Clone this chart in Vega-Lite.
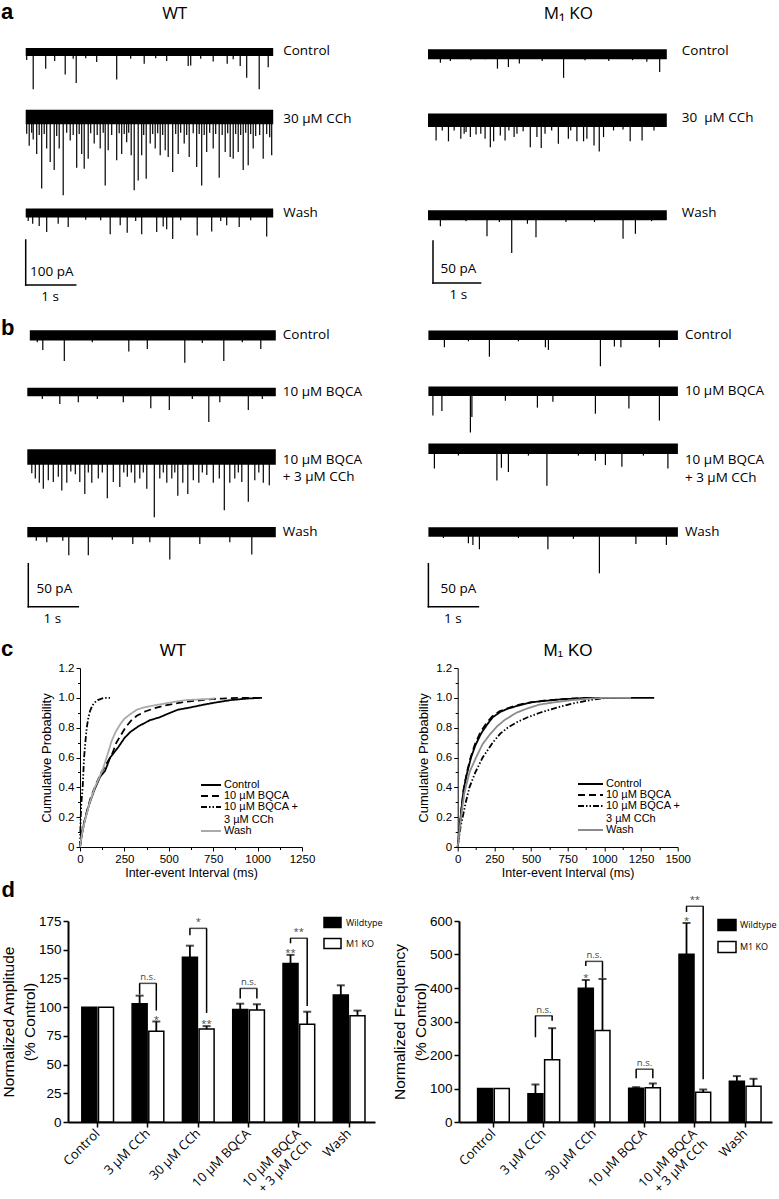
{
"$schema": "https://vega.github.io/schema/vega-lite/v6.json",
"background": "white",
"padding": {"left": 1, "top": 0, "right": 0, "bottom": 0},
"config": {
  "view": {"stroke": null},
  "axis": {"domainColor": "black", "tickColor": "black", "labelColor": "black", "titleColor": "black", "grid": false, "labelFont": "Liberation Sans", "titleFont": "Liberation Sans", "titleFontWeight": "normal"},
  "legend": {"labelColor": "black"},
  "title": {"color": "black"}
},
"datasets": {
  "panels": [{"panel": "a"}, {"panel": "b"}, {"panel": "c"}],
  "heads": [{"key": "aWT", "text": "WT"}, {"key": "aKO", "text": "M₁ KO"}, {"key": "cWT", "text": "WT"}, {"key": "cKO", "text": "M₁ KO"}],
  "tr": [
    {"id":"aWT_c","t0":0,"t1":4.95,"lo":-9,"hi":9,"label":"Control"},
    {"id":"aWT_x","t0":0,"t1":4.95,"lo":-16,"hi":16,"label":"30 µM CCh"},
    {"id":"aWT_w","t0":0,"t1":4.95,"lo":-10,"hi":10,"label":"Wash"},
    {"id":"aKO_c","t0":0,"t1":5.02,"lo":-6,"hi":6,"label":"Control"},
    {"id":"aKO_x","t0":0,"t1":5.02,"lo":-8,"hi":8,"label":"30\u00a0 µM CCh"},
    {"id":"aKO_w","t0":0,"t1":5.02,"lo":-6,"hi":6,"label":"Wash"},
    {"id":"bWT_c","t0":0.05,"t1":4.97,"lo":-6,"hi":6,"label":"Control"},
    {"id":"bWT_b","t0":0,"t1":4.97,"lo":-5,"hi":5,"label":"10 µM BQCA"},
    {"id":"bWT_x","t0":0,"t1":4.97,"lo":-9,"hi":9,"label":"10 µM BQCA\n+ 3 µM CCh"},
    {"id":"bWT_w","t0":0,"t1":4.97,"lo":-6,"hi":6,"label":"Wash"},
    {"id":"bKO_c","t0":0,"t1":4.99,"lo":-5.5,"hi":5.5,"label":"Control"},
    {"id":"bKO_b","t0":0,"t1":4.99,"lo":-5.5,"hi":5.5,"label":"10 µM BQCA"},
    {"id":"bKO_x","t0":0,"t1":4.99,"lo":-6,"hi":6,"label":"10 µM BQCA\n+ 3 µM CCh"},
    {"id":"bKO_w","t0":0,"t1":4.99,"lo":-5.5,"hi":5.5,"label":"Wash"}
  ],
  "sbl": [
    {"id":"aWT","t0":0,"t1":0,"i0":-60,"i1":-160},
    {"id":"aWT","t0":0,"t1":1,"i0":-160,"i1":-160},
    {"id":"aKO","t0":0.105,"t1":0.105,"i0":-30.6,"i1":-80.6},
    {"id":"aKO","t0":0.105,"t1":1.105,"i0":-80.6,"i1":-80.6},
    {"id":"bWT","t0":0.02,"t1":0.02,"i0":-36.9,"i1":-86.9},
    {"id":"bWT","t0":0.02,"t1":1.02,"i0":-86.9,"i1":-86.9},
    {"id":"bKO","t0":0,"t1":0,"i0":-36.9,"i1":-86.9},
    {"id":"bKO","t0":0,"t1":1,"i0":-86.9,"i1":-86.9}
  ],
  "sbt": [
    {"id":"aWT","t":0.52,"i":-131,"text":"100 pA"},
    {"id":"aWT","t":0.49,"i":-187,"text":"1 s"},
    {"id":"aKO","t":0.64,"i":-63.6,"text":"50 pA"},
    {"id":"aKO","t":0.64,"i":-95,"text":"1 s"},
    {"id":"bWT","t":0.54,"i":-65.9,"text":"50 pA"},
    {"id":"bWT","t":0.5,"i":-101,"text":"1 s"},
    {"id":"bKO","t":0.6,"i":-65.9,"text":"50 pA"},
    {"id":"bKO","t":0.49,"i":-101,"text":"1 s"}
  ],
  "aWT_c": [{"t":0.02,"i":-18},{"t":0.15,"i":-83},{"t":0.4,"i":-37},{"t":0.58,"i":-20},{"t":0.79,"i":-50},{"t":0.95,"i":-15},{"t":1.01,"i":-69},{"t":1.2,"i":-14},{"t":1.42,"i":-22},{"t":1.82,"i":-61},{"t":2.1,"i":-15},{"t":2.37,"i":-26},{"t":2.6,"i":-14},{"t":2.82,"i":-20},{"t":3.25,"i":-31},{"t":3.3,"i":-30},{"t":3.5,"i":-15},{"t":3.75,"i":-21},{"t":4.03,"i":-26},{"t":4.15,"i":-16},{"t":4.29,"i":-31},{"t":4.42,"i":-57},{"t":4.67,"i":-83},{"t":4.85,"i":-34}],
  "aWT_x": [{"t":0.02,"i":-37},{"t":0.07,"i":-64},{"t":0.12,"i":-35},{"t":0.15,"i":-50},{"t":0.22,"i":-82},{"t":0.27,"i":-40},{"t":0.32,"i":-159},{"t":0.37,"i":-38},{"t":0.42,"i":-70},{"t":0.49,"i":-100},{"t":0.57,"i":-118},{"t":0.62,"i":-42},{"t":0.67,"i":-70},{"t":0.75,"i":-174},{"t":0.82,"i":-35},{"t":0.89,"i":-52},{"t":0.95,"i":-40},{"t":1.02,"i":-113},{"t":1.07,"i":-38},{"t":1.12,"i":-82},{"t":1.17,"i":-115},{"t":1.25,"i":-93},{"t":1.3,"i":-36},{"t":1.37,"i":-59},{"t":1.43,"i":-40},{"t":1.49,"i":-70},{"t":1.55,"i":-35},{"t":1.59,"i":-152},{"t":1.65,"i":-74},{"t":1.72,"i":-40},{"t":1.82,"i":-96},{"t":1.87,"i":-36},{"t":1.92,"i":-82},{"t":1.97,"i":-38},{"t":2.02,"i":-56},{"t":2.06,"i":-35},{"t":2.11,"i":-85},{"t":2.17,"i":-163},{"t":2.25,"i":-141},{"t":2.32,"i":-85},{"t":2.36,"i":-40},{"t":2.41,"i":-137},{"t":2.49,"i":-59},{"t":2.54,"i":-38},{"t":2.59,"i":-70},{"t":2.64,"i":-36},{"t":2.69,"i":-85},{"t":2.74,"i":-40},{"t":2.79,"i":-74},{"t":2.85,"i":-89},{"t":2.94,"i":-122},{"t":3.0,"i":-38},{"t":3.05,"i":-82},{"t":3.1,"i":-35},{"t":3.17,"i":-59},{"t":3.22,"i":-40},{"t":3.27,"i":-89},{"t":3.35,"i":-36},{"t":3.42,"i":-111},{"t":3.47,"i":-38},{"t":3.52,"i":-152},{"t":3.57,"i":-40},{"t":3.62,"i":-78},{"t":3.68,"i":-35},{"t":3.75,"i":-70},{"t":3.8,"i":-38},{"t":3.87,"i":-135},{"t":3.93,"i":-40},{"t":3.99,"i":-78},{"t":4.04,"i":-36},{"t":4.09,"i":-89},{"t":4.15,"i":-93},{"t":4.2,"i":-38},{"t":4.25,"i":-78},{"t":4.3,"i":-40},{"t":4.35,"i":-118},{"t":4.4,"i":-35},{"t":4.45,"i":-107},{"t":4.5,"i":-38},{"t":4.55,"i":-70},{"t":4.6,"i":-42},{"t":4.68,"i":-40},{"t":4.75,"i":-93},{"t":4.82,"i":-38},{"t":4.88,"i":-45},{"t":4.92,"i":-85}],
  "aWT_w": [{"t":0.05,"i":-18},{"t":0.14,"i":-24},{"t":0.27,"i":-29},{"t":0.42,"i":-42},{"t":0.65,"i":-24},{"t":0.85,"i":-31},{"t":1.2,"i":-15},{"t":1.5,"i":-16},{"t":1.69,"i":-47},{"t":1.89,"i":-27},{"t":2.03,"i":-44},{"t":2.2,"i":-18},{"t":2.32,"i":-47},{"t":2.62,"i":-42},{"t":2.75,"i":-30},{"t":2.82,"i":-36},{"t":2.94,"i":-58},{"t":3.1,"i":-16},{"t":3.43,"i":-50},{"t":3.72,"i":-41},{"t":3.9,"i":-18},{"t":4.02,"i":-27},{"t":4.27,"i":-31},{"t":4.5,"i":-16},{"t":4.82,"i":-52}],
  "aKO_c": [{"t":0.26,"i":-10},{"t":0.47,"i":-8},{"t":0.9,"i":-7},{"t":1.2,"i":-6},{"t":1.46,"i":-17},{"t":1.69,"i":-15},{"t":1.92,"i":-11},{"t":2.4,"i":-8},{"t":2.85,"i":-28},{"t":3.3,"i":-7},{"t":3.8,"i":-8},{"t":4.3,"i":-7},{"t":4.6,"i":-9},{"t":4.87,"i":-21}],
  "aKO_x": [{"t":0.17,"i":-24},{"t":0.3,"i":-12},{"t":0.43,"i":-25},{"t":0.55,"i":-12},{"t":0.69,"i":-22},{"t":0.76,"i":-16},{"t":0.8,"i":-14},{"t":0.89,"i":-20},{"t":1.01,"i":-17},{"t":1.11,"i":-16},{"t":1.2,"i":-22},{"t":1.31,"i":-32},{"t":1.38,"i":-25},{"t":1.52,"i":-18},{"t":1.62,"i":-24},{"t":1.7,"i":-12},{"t":1.81,"i":-20},{"t":1.87,"i":-16},{"t":2.0,"i":-13},{"t":2.15,"i":-32},{"t":2.29,"i":-20},{"t":2.38,"i":-33},{"t":2.46,"i":-16},{"t":2.6,"i":-12},{"t":2.74,"i":-28},{"t":2.95,"i":-22},{"t":3.0,"i":-12},{"t":3.13,"i":-25},{"t":3.27,"i":-25},{"t":3.34,"i":-22},{"t":3.49,"i":-30},{"t":3.6,"i":-37},{"t":3.69,"i":-20},{"t":3.9,"i":-12},{"t":4.1,"i":-11},{"t":4.25,"i":-25},{"t":4.5,"i":-24},{"t":4.75,"i":-12}],
  "aKO_w": [{"t":0.26,"i":-13},{"t":0.8,"i":-7},{"t":1.24,"i":-25},{"t":1.5,"i":-8},{"t":1.76,"i":-45},{"t":2.09,"i":-10},{"t":2.27,"i":-26},{"t":2.9,"i":-8},{"t":3.5,"i":-8},{"t":4.1,"i":-28},{"t":4.36,"i":-22},{"t":4.7,"i":-7}],
  "bWT_c": [{"t":0.2,"i":-8},{"t":0.31,"i":-17},{"t":0.74,"i":-30},{"t":1.3,"i":-8},{"t":2.03,"i":-19},{"t":2.4,"i":-16},{"t":3.15,"i":-32},{"t":3.5,"i":-9},{"t":3.93,"i":-30},{"t":4.3,"i":-8},{"t":4.67,"i":-16}],
  "bWT_b": [{"t":0.3,"i":-8},{"t":0.65,"i":-14},{"t":1.02,"i":-12},{"t":1.4,"i":-8},{"t":1.92,"i":-12},{"t":2.47,"i":-19},{"t":2.84,"i":-21},{"t":3.3,"i":-8},{"t":3.63,"i":-35},{"t":3.85,"i":-12},{"t":4.42,"i":-21},{"t":4.7,"i":-8}],
  "bWT_x": [{"t":0.09,"i":-19},{"t":0.16,"i":-25},{"t":0.24,"i":-30},{"t":0.32,"i":-37},{"t":0.42,"i":-27},{"t":0.52,"i":-29},{"t":0.62,"i":-23},{"t":0.69,"i":-39},{"t":0.79,"i":-30},{"t":0.87,"i":-17},{"t":0.96,"i":-20},{"t":1.05,"i":-29},{"t":1.15,"i":-43},{"t":1.22,"i":-18},{"t":1.29,"i":-30},{"t":1.42,"i":-25},{"t":1.5,"i":-18},{"t":1.6,"i":-48},{"t":1.72,"i":-29},{"t":1.85,"i":-35},{"t":1.93,"i":-18},{"t":2.0,"i":-23},{"t":2.08,"i":-18},{"t":2.15,"i":-30},{"t":2.25,"i":-25},{"t":2.32,"i":-18},{"t":2.39,"i":-37},{"t":2.54,"i":-70},{"t":2.65,"i":-25},{"t":2.72,"i":-18},{"t":2.79,"i":-30},{"t":2.89,"i":-25},{"t":2.95,"i":-18},{"t":3.01,"i":-45},{"t":3.11,"i":-30},{"t":3.21,"i":-43},{"t":3.32,"i":-27},{"t":3.43,"i":-30},{"t":3.5,"i":-18},{"t":3.59,"i":-21},{"t":3.72,"i":-30},{"t":3.84,"i":-25},{"t":3.94,"i":-62},{"t":4.05,"i":-30},{"t":4.15,"i":-25},{"t":4.22,"i":-18},{"t":4.29,"i":-29},{"t":4.42,"i":-52},{"t":4.55,"i":-27},{"t":4.63,"i":-18},{"t":4.72,"i":-30},{"t":4.84,"i":-33}],
  "bWT_w": [{"t":0.18,"i":-10},{"t":0.39,"i":-12},{"t":0.71,"i":-10},{"t":0.83,"i":-27},{"t":1.22,"i":-27},{"t":1.7,"i":-9},{"t":2.11,"i":-14},{"t":2.45,"i":-12},{"t":2.85,"i":-32},{"t":3.45,"i":-14},{"t":4.05,"i":-12},{"t":4.49,"i":-26}],
  "bKO_c": [{"t":0.32,"i":-14},{"t":0.8,"i":-7},{"t":1.22,"i":-25},{"t":1.8,"i":-7},{"t":2.34,"i":-14},{"t":2.4,"i":-17},{"t":3.44,"i":-36},{"t":3.72,"i":-13},{"t":3.85,"i":-14},{"t":4.62,"i":-14}],
  "bKO_b": [{"t":0.09,"i":-28},{"t":0.27,"i":-23},{"t":0.84,"i":-48},{"t":0.87,"i":-30},{"t":1.54,"i":-11},{"t":2.18,"i":-19},{"t":2.49,"i":-12},{"t":3.34,"i":-26},{"t":4.01,"i":-20},{"t":4.62,"i":-34}],
  "bKO_x": [{"t":0.12,"i":-23},{"t":0.6,"i":-8},{"t":1.37,"i":-37},{"t":1.46,"i":-22},{"t":1.6,"i":-27},{"t":2.0,"i":-8},{"t":2.37,"i":-43},{"t":3.0,"i":-8},{"t":3.34,"i":-14},{"t":3.54,"i":-19},{"t":3.87,"i":-21},{"t":4.3,"i":-8},{"t":4.79,"i":-23}],
  "bKO_w": [{"t":0.3,"i":-7},{"t":0.8,"i":-13},{"t":0.89,"i":-15},{"t":1.02,"i":-20},{"t":1.8,"i":-7},{"t":2.39,"i":-20},{"t":2.9,"i":-8},{"t":3.42,"i":-48},{"t":4.15,"i":-14},{"t":4.76,"i":-15}],
  "cdf": [
    {"g":"WT","s":"Control","ms":0,"p":0},{"g":"WT","s":"Control","ms":10,"p":0.08},{"g":"WT","s":"Control","ms":25,"p":0.17},{"g":"WT","s":"Control","ms":50,"p":0.28},{"g":"WT","s":"Control","ms":80,"p":0.38},{"g":"WT","s":"Control","ms":113,"p":0.47},{"g":"WT","s":"Control","ms":141,"p":0.51},{"g":"WT","s":"Control","ms":170,"p":0.6},{"g":"WT","s":"Control","ms":216,"p":0.67},{"g":"WT","s":"Control","ms":250,"p":0.73},{"g":"WT","s":"Control","ms":282,"p":0.77},{"g":"WT","s":"Control","ms":330,"p":0.81},{"g":"WT","s":"Control","ms":394,"p":0.85},{"g":"WT","s":"Control","ms":450,"p":0.87},{"g":"WT","s":"Control","ms":488,"p":0.89},{"g":"WT","s":"Control","ms":550,"p":0.92},{"g":"WT","s":"Control","ms":619,"p":0.935},{"g":"WT","s":"Control","ms":700,"p":0.955},{"g":"WT","s":"Control","ms":770,"p":0.97},{"g":"WT","s":"Control","ms":850,"p":0.985},{"g":"WT","s":"Control","ms":939,"p":0.995},{"g":"WT","s":"Control","ms":1025,"p":1},
    {"g":"WT","s":"10 µM BQCA","ms":0,"p":0},{"g":"WT","s":"10 µM BQCA","ms":10,"p":0.09},{"g":"WT","s":"10 µM BQCA","ms":30,"p":0.2},{"g":"WT","s":"10 µM BQCA","ms":60,"p":0.33},{"g":"WT","s":"10 µM BQCA","ms":90,"p":0.42},{"g":"WT","s":"10 µM BQCA","ms":120,"p":0.5},{"g":"WT","s":"10 µM BQCA","ms":150,"p":0.56},{"g":"WT","s":"10 µM BQCA","ms":180,"p":0.62},{"g":"WT","s":"10 µM BQCA","ms":205,"p":0.7},{"g":"WT","s":"10 µM BQCA","ms":230,"p":0.75},{"g":"WT","s":"10 µM BQCA","ms":255,"p":0.8},{"g":"WT","s":"10 µM BQCA","ms":290,"p":0.85},{"g":"WT","s":"10 µM BQCA","ms":320,"p":0.88},{"g":"WT","s":"10 µM BQCA","ms":370,"p":0.91},{"g":"WT","s":"10 µM BQCA","ms":420,"p":0.93},{"g":"WT","s":"10 µM BQCA","ms":480,"p":0.95},{"g":"WT","s":"10 µM BQCA","ms":530,"p":0.96},{"g":"WT","s":"10 µM BQCA","ms":600,"p":0.975},{"g":"WT","s":"10 µM BQCA","ms":650,"p":0.98},{"g":"WT","s":"10 µM BQCA","ms":720,"p":0.99},{"g":"WT","s":"10 µM BQCA","ms":800,"p":0.995},{"g":"WT","s":"10 µM BQCA","ms":900,"p":1},{"g":"WT","s":"10 µM BQCA","ms":1030,"p":1},
    {"g":"WT","s":"10 µM BQCA + 3 µM CCh","ms":0,"p":0},{"g":"WT","s":"10 µM BQCA + 3 µM CCh","ms":2,"p":0.1},{"g":"WT","s":"10 µM BQCA + 3 µM CCh","ms":4,"p":0.2},{"g":"WT","s":"10 µM BQCA + 3 µM CCh","ms":8,"p":0.3},{"g":"WT","s":"10 µM BQCA + 3 µM CCh","ms":15,"p":0.4},{"g":"WT","s":"10 µM BQCA + 3 µM CCh","ms":19,"p":0.5},{"g":"WT","s":"10 µM BQCA + 3 µM CCh","ms":23,"p":0.6},{"g":"WT","s":"10 µM BQCA + 3 µM CCh","ms":30,"p":0.7},{"g":"WT","s":"10 µM BQCA + 3 µM CCh","ms":38,"p":0.8},{"g":"WT","s":"10 µM BQCA + 3 µM CCh","ms":46,"p":0.86},{"g":"WT","s":"10 µM BQCA + 3 µM CCh","ms":56,"p":0.91},{"g":"WT","s":"10 µM BQCA + 3 µM CCh","ms":70,"p":0.95},{"g":"WT","s":"10 µM BQCA + 3 µM CCh","ms":84,"p":0.97},{"g":"WT","s":"10 µM BQCA + 3 µM CCh","ms":100,"p":0.985},{"g":"WT","s":"10 µM BQCA + 3 µM CCh","ms":122,"p":0.995},{"g":"WT","s":"10 µM BQCA + 3 µM CCh","ms":140,"p":1},{"g":"WT","s":"10 µM BQCA + 3 µM CCh","ms":169,"p":1},
    {"g":"WT","s":"Wash","ms":0,"p":0},{"g":"WT","s":"Wash","ms":10,"p":0.08},{"g":"WT","s":"Wash","ms":28,"p":0.18},{"g":"WT","s":"Wash","ms":55,"p":0.3},{"g":"WT","s":"Wash","ms":84,"p":0.4},{"g":"WT","s":"Wash","ms":110,"p":0.47},{"g":"WT","s":"Wash","ms":131,"p":0.53},{"g":"WT","s":"Wash","ms":155,"p":0.62},{"g":"WT","s":"Wash","ms":178,"p":0.71},{"g":"WT","s":"Wash","ms":200,"p":0.77},{"g":"WT","s":"Wash","ms":225,"p":0.82},{"g":"WT","s":"Wash","ms":250,"p":0.86},{"g":"WT","s":"Wash","ms":282,"p":0.89},{"g":"WT","s":"Wash","ms":320,"p":0.92},{"g":"WT","s":"Wash","ms":357,"p":0.935},{"g":"WT","s":"Wash","ms":420,"p":0.95},{"g":"WT","s":"Wash","ms":469,"p":0.96},{"g":"WT","s":"Wash","ms":540,"p":0.975},{"g":"WT","s":"Wash","ms":601,"p":0.985},{"g":"WT","s":"Wash","ms":680,"p":0.99},{"g":"WT","s":"Wash","ms":750,"p":0.995},{"g":"WT","s":"Wash","ms":760,"p":1},
    {"g":"KO","s":"Control","ms":0,"p":0},{"g":"KO","s":"Control","ms":10,"p":0.1},{"g":"KO","s":"Control","ms":25,"p":0.25},{"g":"KO","s":"Control","ms":41,"p":0.39},{"g":"KO","s":"Control","ms":65,"p":0.5},{"g":"KO","s":"Control","ms":91,"p":0.6},{"g":"KO","s":"Control","ms":120,"p":0.68},{"g":"KO","s":"Control","ms":159,"p":0.76},{"g":"KO","s":"Control","ms":200,"p":0.82},{"g":"KO","s":"Control","ms":239,"p":0.87},{"g":"KO","s":"Control","ms":290,"p":0.905},{"g":"KO","s":"Control","ms":341,"p":0.927},{"g":"KO","s":"Control","ms":420,"p":0.95},{"g":"KO","s":"Control","ms":500,"p":0.97},{"g":"KO","s":"Control","ms":600,"p":0.98},{"g":"KO","s":"Control","ms":704,"p":0.99},{"g":"KO","s":"Control","ms":800,"p":0.995},{"g":"KO","s":"Control","ms":886,"p":1},{"g":"KO","s":"Control","ms":1340,"p":1},
    {"g":"KO","s":"10 µM BQCA","ms":0,"p":0},{"g":"KO","s":"10 µM BQCA","ms":10,"p":0.1},{"g":"KO","s":"10 µM BQCA","ms":25,"p":0.25},{"g":"KO","s":"10 µM BQCA","ms":40,"p":0.38},{"g":"KO","s":"10 µM BQCA","ms":62,"p":0.5},{"g":"KO","s":"10 µM BQCA","ms":88,"p":0.6},{"g":"KO","s":"10 µM BQCA","ms":118,"p":0.69},{"g":"KO","s":"10 µM BQCA","ms":155,"p":0.77},{"g":"KO","s":"10 µM BQCA","ms":195,"p":0.83},{"g":"KO","s":"10 µM BQCA","ms":235,"p":0.875},{"g":"KO","s":"10 µM BQCA","ms":285,"p":0.91},{"g":"KO","s":"10 µM BQCA","ms":340,"p":0.93},{"g":"KO","s":"10 µM BQCA","ms":420,"p":0.955},{"g":"KO","s":"10 µM BQCA","ms":500,"p":0.97},{"g":"KO","s":"10 µM BQCA","ms":600,"p":0.983},{"g":"KO","s":"10 µM BQCA","ms":700,"p":0.99},{"g":"KO","s":"10 µM BQCA","ms":800,"p":0.996},{"g":"KO","s":"10 µM BQCA","ms":900,"p":1},{"g":"KO","s":"10 µM BQCA","ms":1000,"p":1},
    {"g":"KO","s":"10 µM BQCA + 3 µM CCh","ms":0,"p":0},{"g":"KO","s":"10 µM BQCA + 3 µM CCh","ms":10,"p":0.07},{"g":"KO","s":"10 µM BQCA + 3 µM CCh","ms":20,"p":0.14},{"g":"KO","s":"10 µM BQCA + 3 µM CCh","ms":34,"p":0.2},{"g":"KO","s":"10 µM BQCA + 3 µM CCh","ms":55,"p":0.3},{"g":"KO","s":"10 µM BQCA + 3 µM CCh","ms":80,"p":0.4},{"g":"KO","s":"10 µM BQCA + 3 µM CCh","ms":120,"p":0.5},{"g":"KO","s":"10 µM BQCA + 3 µM CCh","ms":170,"p":0.6},{"g":"KO","s":"10 µM BQCA + 3 µM CCh","ms":239,"p":0.7},{"g":"KO","s":"10 µM BQCA + 3 µM CCh","ms":290,"p":0.76},{"g":"KO","s":"10 µM BQCA + 3 µM CCh","ms":341,"p":0.8},{"g":"KO","s":"10 µM BQCA + 3 µM CCh","ms":400,"p":0.835},{"g":"KO","s":"10 µM BQCA + 3 µM CCh","ms":477,"p":0.87},{"g":"KO","s":"10 µM BQCA + 3 µM CCh","ms":560,"p":0.9},{"g":"KO","s":"10 µM BQCA + 3 µM CCh","ms":659,"p":0.93},{"g":"KO","s":"10 µM BQCA + 3 µM CCh","ms":773,"p":0.96},{"g":"KO","s":"10 µM BQCA + 3 µM CCh","ms":850,"p":0.975},{"g":"KO","s":"10 µM BQCA + 3 µM CCh","ms":932,"p":0.99},{"g":"KO","s":"10 µM BQCA + 3 µM CCh","ms":1023,"p":1},{"g":"KO","s":"10 µM BQCA + 3 µM CCh","ms":1100,"p":1},
    {"g":"KO","s":"Wash","ms":0,"p":0},{"g":"KO","s":"Wash","ms":10,"p":0.09},{"g":"KO","s":"Wash","ms":25,"p":0.22},{"g":"KO","s":"Wash","ms":45,"p":0.36},{"g":"KO","s":"Wash","ms":80,"p":0.5},{"g":"KO","s":"Wash","ms":125,"p":0.6},{"g":"KO","s":"Wash","ms":170,"p":0.69},{"g":"KO","s":"Wash","ms":216,"p":0.75},{"g":"KO","s":"Wash","ms":270,"p":0.81},{"g":"KO","s":"Wash","ms":318,"p":0.85},{"g":"KO","s":"Wash","ms":400,"p":0.9},{"g":"KO","s":"Wash","ms":477,"p":0.93},{"g":"KO","s":"Wash","ms":560,"p":0.955},{"g":"KO","s":"Wash","ms":659,"p":0.97},{"g":"KO","s":"Wash","ms":780,"p":0.985},{"g":"KO","s":"Wash","ms":932,"p":0.997},{"g":"KO","s":"Wash","ms":1000,"p":1},{"g":"KO","s":"Wash","ms":1182,"p":1}
  ],
  "amp": [
    {"cond":"Control","g":"Wildtype","mean":100,"err":null},{"cond":"Control","g":"M1 KO","mean":100,"err":null},
    {"cond":"3 µM CCh","g":"Wildtype","mean":103,"err":110},{"cond":"3 µM CCh","g":"M1 KO","mean":79,"err":87.5},
    {"cond":"30 µM CCh","g":"Wildtype","mean":143.5,"err":153.5},{"cond":"30 µM CCh","g":"M1 KO","mean":81,"err":83.5},
    {"cond":"10 µM BQCA","g":"Wildtype","mean":98,"err":103},{"cond":"10 µM BQCA","g":"M1 KO","mean":97.5,"err":102.5},
    {"cond":"10 µM BQCA + 3 µM CCh","g":"Wildtype","mean":138,"err":145.5},{"cond":"10 µM BQCA + 3 µM CCh","g":"M1 KO","mean":85,"err":96},
    {"cond":"Wash","g":"Wildtype","mean":110.5,"err":119},{"cond":"Wash","g":"M1 KO","mean":92.5,"err":97}
  ],
  "freq": [
    {"cond":"Control","g":"Wildtype","mean":100,"err":null},{"cond":"Control","g":"M1 KO","mean":100,"err":null},
    {"cond":"3 µM CCh","g":"Wildtype","mean":84,"err":112},{"cond":"3 µM CCh","g":"M1 KO","mean":186,"err":280},
    {"cond":"30 µM CCh","g":"Wildtype","mean":399,"err":424},{"cond":"30 µM CCh","g":"M1 KO","mean":273,"err":427},
    {"cond":"10 µM BQCA","g":"Wildtype","mean":101,"err":104},{"cond":"10 µM BQCA","g":"M1 KO","mean":102,"err":115},
    {"cond":"10 µM BQCA + 3 µM CCh","g":"Wildtype","mean":501,"err":594},{"cond":"10 µM BQCA + 3 µM CCh","g":"M1 KO","mean":89,"err":97},
    {"cond":"Wash","g":"Wildtype","mean":122,"err":137},{"cond":"Wash","g":"M1 KO","mean":107,"err":129}
  ],
  "ampLegs": [
    {"cond":"3 µM CCh","g":"Wildtype","lo":111,"hi":120.7},{"cond":"3 µM CCh","g":"M1 KO","lo":97,"hi":120.7},
    {"cond":"30 µM CCh","g":"Wildtype","lo":162.6,"hi":168.6},{"cond":"30 µM CCh","g":"M1 KO","lo":95,"hi":168.6},
    {"cond":"10 µM BQCA","g":"Wildtype","lo":107.6,"hi":116.3},{"cond":"10 µM BQCA","g":"M1 KO","lo":107.6,"hi":116.3},
    {"cond":"10 µM BQCA + 3 µM CCh","g":"Wildtype","lo":155.6,"hi":160},{"cond":"10 µM BQCA + 3 µM CCh","g":"M1 KO","lo":101,"hi":160}
  ],
  "ampBr": [
    {"cond":"3 µM CCh","top":120.7,"label":"n.s."},{"cond":"30 µM CCh","top":168.6,"label":"*"},
    {"cond":"10 µM BQCA","top":116.3,"label":"n.s."},{"cond":"10 µM BQCA + 3 µM CCh","top":160,"label":"**"}
  ],
  "ampStar": [
    {"cond":"3 µM CCh","g":"M1 KO","y":87.5,"label":"*"},{"cond":"30 µM CCh","g":"M1 KO","y":83.5,"label":"**"},
    {"cond":"10 µM BQCA + 3 µM CCh","g":"Wildtype","y":145.5,"label":"**"}
  ],
  "freqLegs": [
    {"cond":"3 µM CCh","g":"Wildtype","lo":253,"hi":317},{"cond":"3 µM CCh","g":"M1 KO","lo":302,"hi":317},
    {"cond":"30 µM CCh","g":"Wildtype","lo":466,"hi":479.5},{"cond":"30 µM CCh","g":"M1 KO","lo":430,"hi":479.5},
    {"cond":"10 µM BQCA","g":"Wildtype","lo":130.5,"hi":157.6},{"cond":"10 µM BQCA","g":"M1 KO","lo":130.5,"hi":157.6},
    {"cond":"10 µM BQCA + 3 µM CCh","g":"Wildtype","lo":627,"hi":644},{"cond":"10 µM BQCA + 3 µM CCh","g":"M1 KO","lo":127.6,"hi":644}
  ],
  "freqBr": [
    {"cond":"3 µM CCh","top":317,"label":"n.s."},{"cond":"30 µM CCh","top":479.5,"label":"n.s."},
    {"cond":"10 µM BQCA","top":157.6,"label":"n.s."},{"cond":"10 µM BQCA + 3 µM CCh","top":644,"label":"**"}
  ],
  "freqStar": [
    {"cond":"30 µM CCh","g":"Wildtype","y":424,"label":"*"},{"cond":"10 µM BQCA + 3 µM CCh","g":"Wildtype","y":594,"label":"*"}
  ]
},
"spacing": 0,
"vconcat": [
 {
  "spacing": 42,
  "hconcat": [
   {"bounds": "flush", "spacing": 0, "vconcat": [
    {"width": 317.7, "height": 64,
     "layer": [
      {"data": {"name": "tr"}, "transform": [{"filter": "datum.id == 'aWT_c'"}], "mark": {"type": "rect", "color": "black"},
       "encoding": {"x": {"field": "t0", "type": "quantitative", "scale": {"domain": [0.846, 7.2], "nice": false}, "axis": null}, "x2": {"field": "t1"},
                    "y": {"field": "lo", "type": "quantitative", "scale": {"domain": [-88.9, 53.3], "nice": false}, "axis": null}, "y2": {"field": "hi"}}},
      {"data": {"name": "aWT_c"}, "mark": {"type": "rule", "color": "black", "strokeWidth": 1.2},
       "encoding": {"x": {"field": "t", "type": "quantitative", "axis": null}, "y": {"field": "i", "type": "quantitative", "axis": null}, "y2": {"datum": 0}}},
      {"data": {"name": "tr"}, "transform": [{"filter": "datum.id == 'aWT_c'"}], "mark": {"type": "text", "align": "left", "baseline": "middle", "dx": 10, "dy": -1, "font": "Open Sans", "fontSize": 13.5, "lineBreak": "\n", "color": "black"},
       "encoding": {"x": {"field": "t1", "type": "quantitative", "axis": null}, "y": {"datum": 0, "type": "quantitative", "axis": null}, "text": {"field": "label"}}},
      {"data": {"name": "panels"}, "transform": [{"filter": "datum.panel == 'a'"}], "mark": {"type": "text", "align": "left", "baseline": "alphabetic", "font": "Liberation Sans", "fontSize": 22, "fontWeight": "bold", "color": "black"},
       "encoding": {"x": {"datum": -0.494, "type": "quantitative", "axis": null}, "y": {"datum": 73.3, "type": "quantitative", "axis": null}, "text": {"field": "panel"}}},
      {"data": {"name": "heads"}, "transform": [{"filter": "datum.key == 'aWT'"}], "mark": {"type": "text", "align": "center", "baseline": "alphabetic", "font": "Open Sans", "fontSize": 17, "color": "black"},
       "encoding": {"x": {"datum": 2.98, "type": "quantitative", "axis": null}, "y": {"datum": 73.3, "type": "quantitative", "axis": null}, "text": {"field": "text"}}}
     ]},
    {"width": 317.7, "height": 108,
     "layer": [
      {"data": {"name": "tr"}, "transform": [{"filter": "datum.id == 'aWT_x'"}], "mark": {"type": "rect", "color": "black"},
       "encoding": {"x": {"field": "t0", "type": "quantitative", "scale": {"domain": [0.846, 7.2], "nice": false}, "axis": null}, "x2": {"field": "t1"},
                    "y": {"field": "lo", "type": "quantitative", "scale": {"domain": [-184.4, 55.6], "nice": false}, "axis": null}, "y2": {"field": "hi"}}},
      {"data": {"name": "aWT_x"}, "mark": {"type": "rule", "color": "black", "strokeWidth": 1.2},
       "encoding": {"x": {"field": "t", "type": "quantitative", "axis": null}, "y": {"field": "i", "type": "quantitative", "axis": null}, "y2": {"datum": 0}}},
      {"data": {"name": "tr"}, "transform": [{"filter": "datum.id == 'aWT_x'"}], "mark": {"type": "text", "align": "left", "baseline": "middle", "dx": 10, "dy": 2, "font": "Open Sans", "fontSize": 13.5, "lineBreak": "\n", "color": "black"},
       "encoding": {"x": {"field": "t1", "type": "quantitative", "axis": null}, "y": {"datum": 0, "type": "quantitative", "axis": null}, "text": {"field": "label"}}}
     ]},
    {"width": 317.7, "height": 114,
     "layer": [
      {"data": {"name": "tr"}, "transform": [{"filter": "datum.id == 'aWT_w'"}], "mark": {"type": "rect", "color": "black"},
       "encoding": {"x": {"field": "t0", "type": "quantitative", "scale": {"domain": [0.846, 7.2], "nice": false}, "axis": null}, "x2": {"field": "t1"},
                    "y": {"field": "lo", "type": "quantitative", "scale": {"domain": [-224.4, 28.9], "nice": false}, "axis": null}, "y2": {"field": "hi"}}},
      {"data": {"name": "aWT_w"}, "mark": {"type": "rule", "color": "black", "strokeWidth": 1.2},
       "encoding": {"x": {"field": "t", "type": "quantitative", "axis": null}, "y": {"field": "i", "type": "quantitative", "axis": null}, "y2": {"datum": 0}}},
      {"data": {"name": "tr"}, "transform": [{"filter": "datum.id == 'aWT_w'"}], "mark": {"type": "text", "align": "left", "baseline": "middle", "dx": 10, "dy": 0, "font": "Open Sans", "fontSize": 13.5, "lineBreak": "\n", "color": "black"},
       "encoding": {"x": {"field": "t1", "type": "quantitative", "axis": null}, "y": {"datum": 0, "type": "quantitative", "axis": null}, "text": {"field": "label"}}},
      {"data": {"name": "sbl"}, "transform": [{"filter": "datum.id == 'aWT'"}], "mark": {"type": "rule", "color": "black", "strokeWidth": 1.5, "strokeCap": "square"},
       "encoding": {"x": {"field": "t0", "type": "quantitative", "axis": null}, "x2": {"field": "t1"}, "y": {"field": "i0", "type": "quantitative", "axis": null}, "y2": {"field": "i1"}}},
      {"data": {"name": "sbt"}, "transform": [{"filter": "datum.id == 'aWT'"}], "mark": {"type": "text", "align": "center", "baseline": "middle", "font": "Open Sans", "fontSize": 13.5, "color": "black"},
       "encoding": {"x": {"field": "t", "type": "quantitative", "axis": null}, "y": {"field": "i", "type": "quantitative", "axis": null}, "text": {"field": "text"}}}
     ]}
   ]},
   {"bounds": "flush", "spacing": 0, "vconcat": [
    {"width": 333, "height": 59,
     "layer": [
      {"data": {"name": "tr"}, "transform": [{"filter": "datum.id == 'aKO_c'"}], "mark": {"type": "rect", "color": "black"},
       "encoding": {"x": {"field": "t0", "type": "quantitative", "scale": {"domain": [0, 7], "nice": false}, "axis": null}, "x2": {"field": "t1"},
                    "y": {"field": "lo", "type": "quantitative", "scale": {"domain": [-38.9, 31.3], "nice": false}, "axis": null}, "y2": {"field": "hi"}}},
      {"data": {"name": "aKO_c"}, "mark": {"type": "rule", "color": "black", "strokeWidth": 1.2},
       "encoding": {"x": {"field": "t", "type": "quantitative", "axis": null}, "y": {"field": "i", "type": "quantitative", "axis": null}, "y2": {"datum": 0}}},
      {"data": {"name": "tr"}, "transform": [{"filter": "datum.id == 'aKO_c'"}], "mark": {"type": "text", "align": "left", "baseline": "middle", "dx": 15, "dy": -3, "font": "Open Sans", "fontSize": 13.5, "lineBreak": "\n", "color": "black"},
       "encoding": {"x": {"field": "t1", "type": "quantitative", "axis": null}, "y": {"datum": 0, "type": "quantitative", "axis": null}, "text": {"field": "label"}}},
      {"data": {"name": "heads"}, "transform": [{"filter": "datum.key == 'aKO'"}], "mark": {"type": "text", "align": "center", "baseline": "alphabetic", "font": "Open Sans", "fontSize": 17, "color": "black"},
       "encoding": {"x": {"datum": 2.95, "type": "quantitative", "axis": null}, "y": {"datum": 42, "type": "quantitative", "axis": null}, "text": {"field": "text"}}}
     ]},
    {"width": 333, "height": 75,
     "layer": [
      {"data": {"name": "tr"}, "transform": [{"filter": "datum.id == 'aKO_x'"}], "mark": {"type": "rect", "color": "black"},
       "encoding": {"x": {"field": "t0", "type": "quantitative", "scale": {"domain": [0, 7], "nice": false}, "axis": null}, "x2": {"field": "t1"},
                    "y": {"field": "lo", "type": "quantitative", "scale": {"domain": [-49.6, 39.6], "nice": false}, "axis": null}, "y2": {"field": "hi"}}},
      {"data": {"name": "aKO_x"}, "mark": {"type": "rule", "color": "black", "strokeWidth": 1.2},
       "encoding": {"x": {"field": "t", "type": "quantitative", "axis": null}, "y": {"field": "i", "type": "quantitative", "axis": null}, "y2": {"datum": 0}}},
      {"data": {"name": "tr"}, "transform": [{"filter": "datum.id == 'aKO_x'"}], "mark": {"type": "text", "align": "left", "baseline": "middle", "dx": 15, "dy": -2, "font": "Open Sans", "fontSize": 13.5, "lineBreak": "\n", "color": "black"},
       "encoding": {"x": {"field": "t1", "type": "quantitative", "axis": null}, "y": {"datum": 0, "type": "quantitative", "axis": null}, "text": {"field": "label"}}}
     ]},
    {"width": 333, "height": 152,
     "layer": [
      {"data": {"name": "tr"}, "transform": [{"filter": "datum.id == 'aKO_w'"}], "mark": {"type": "rect", "color": "black"},
       "encoding": {"x": {"field": "t0", "type": "quantitative", "scale": {"domain": [0, 7], "nice": false}, "axis": null}, "x2": {"field": "t1"},
                    "y": {"field": "lo", "type": "quantitative", "scale": {"domain": [-117.5, 63.5], "nice": false}, "axis": null}, "y2": {"field": "hi"}}},
      {"data": {"name": "aKO_w"}, "mark": {"type": "rule", "color": "black", "strokeWidth": 1.2},
       "encoding": {"x": {"field": "t", "type": "quantitative", "axis": null}, "y": {"field": "i", "type": "quantitative", "axis": null}, "y2": {"datum": 0}}},
      {"data": {"name": "tr"}, "transform": [{"filter": "datum.id == 'aKO_w'"}], "mark": {"type": "text", "align": "left", "baseline": "middle", "dx": 15, "dy": -2, "font": "Open Sans", "fontSize": 13.5, "lineBreak": "\n", "color": "black"},
       "encoding": {"x": {"field": "t1", "type": "quantitative", "axis": null}, "y": {"datum": 0, "type": "quantitative", "axis": null}, "text": {"field": "label"}}},
      {"data": {"name": "sbl"}, "transform": [{"filter": "datum.id == 'aKO'"}], "mark": {"type": "rule", "color": "black", "strokeWidth": 1.5, "strokeCap": "square"},
       "encoding": {"x": {"field": "t0", "type": "quantitative", "axis": null}, "x2": {"field": "t1"}, "y": {"field": "i0", "type": "quantitative", "axis": null}, "y2": {"field": "i1"}}},
      {"data": {"name": "sbt"}, "transform": [{"filter": "datum.id == 'aKO'"}], "mark": {"type": "text", "align": "center", "baseline": "middle", "font": "Open Sans", "fontSize": 13.5, "color": "black"},
       "encoding": {"x": {"field": "t", "type": "quantitative", "axis": null}, "y": {"field": "i", "type": "quantitative", "axis": null}, "text": {"field": "text"}}}
     ]}
   ]}
  ]
 },
 {
  "spacing": 38.4,
  "hconcat": [
   {"bounds": "flush", "spacing": 0, "vconcat": [
    {"width": 319.3, "height": 53,
     "layer": [
      {"data": {"name": "tr"}, "transform": [{"filter": "datum.id == 'bWT_c'"}], "mark": {"type": "rect", "color": "black"},
       "encoding": {"x": {"field": "t0", "type": "quantitative", "scale": {"domain": [0.814, 7.2], "nice": false}, "axis": null}, "x2": {"field": "t1"},
                    "y": {"field": "lo", "type": "quantitative", "scale": {"domain": [-36.9, 24.8], "nice": false}, "axis": null}, "y2": {"field": "hi"}}},
      {"data": {"name": "bWT_c"}, "mark": {"type": "rule", "color": "black", "strokeWidth": 1.2},
       "encoding": {"x": {"field": "t", "type": "quantitative", "axis": null}, "y": {"field": "i", "type": "quantitative", "axis": null}, "y2": {"datum": 0}}},
      {"data": {"name": "tr"}, "transform": [{"filter": "datum.id == 'bWT_c'"}], "mark": {"type": "text", "align": "left", "baseline": "middle", "dx": 7, "dy": 0, "font": "Open Sans", "fontSize": 13.5, "lineBreak": "\n", "color": "black"},
       "encoding": {"x": {"field": "t1", "type": "quantitative", "axis": null}, "y": {"datum": 0, "type": "quantitative", "axis": null}, "text": {"field": "label"}}},
      {"data": {"name": "panels"}, "transform": [{"filter": "datum.panel == 'b'"}], "mark": {"type": "text", "align": "left", "baseline": "alphabetic", "font": "Liberation Sans", "fontSize": 22, "fontWeight": "bold", "color": "black"},
       "encoding": {"x": {"datum": -0.526, "type": "quantitative", "axis": null}, "y": {"datum": 0, "type": "quantitative", "axis": null}, "text": {"field": "panel"}}}
     ]},
    {"width": 319.3, "height": 63,
     "layer": [
      {"data": {"name": "tr"}, "transform": [{"filter": "datum.id == 'bWT_b'"}], "mark": {"type": "rect", "color": "black"},
       "encoding": {"x": {"field": "t0", "type": "quantitative", "scale": {"domain": [0.814, 7.2], "nice": false}, "axis": null}, "x2": {"field": "t1"},
                    "y": {"field": "lo", "type": "quantitative", "scale": {"domain": [-44.2, 29.1], "nice": false}, "axis": null}, "y2": {"field": "hi"}}},
      {"data": {"name": "bWT_b"}, "mark": {"type": "rule", "color": "black", "strokeWidth": 1.2},
       "encoding": {"x": {"field": "t", "type": "quantitative", "axis": null}, "y": {"field": "i", "type": "quantitative", "axis": null}, "y2": {"datum": 0}}},
      {"data": {"name": "tr"}, "transform": [{"filter": "datum.id == 'bWT_b'"}], "mark": {"type": "text", "align": "left", "baseline": "middle", "dx": 7, "dy": 0, "font": "Open Sans", "fontSize": 13.5, "lineBreak": "\n", "color": "black"},
       "encoding": {"x": {"field": "t1", "type": "quantitative", "axis": null}, "y": {"datum": 0, "type": "quantitative", "axis": null}, "text": {"field": "label"}}}
     ]},
    {"width": 319.3, "height": 90,
     "layer": [
      {"data": {"name": "tr"}, "transform": [{"filter": "datum.id == 'bWT_x'"}], "mark": {"type": "rect", "color": "black"},
       "encoding": {"x": {"field": "t0", "type": "quantitative", "scale": {"domain": [0.814, 7.2], "nice": false}, "axis": null}, "x2": {"field": "t1"},
                    "y": {"field": "lo", "type": "quantitative", "scale": {"domain": [-73.3, 31.4], "nice": false}, "axis": null}, "y2": {"field": "hi"}}},
      {"data": {"name": "bWT_x"}, "mark": {"type": "rule", "color": "black", "strokeWidth": 1.2},
       "encoding": {"x": {"field": "t", "type": "quantitative", "axis": null}, "y": {"field": "i", "type": "quantitative", "axis": null}, "y2": {"datum": 0}}},
      {"data": {"name": "tr"}, "transform": [{"filter": "datum.id == 'bWT_x'"}], "mark": {"type": "text", "align": "left", "baseline": "middle", "dx": 7, "dy": 3.3, "lineHeight": 17, "font": "Open Sans", "fontSize": 13.5, "lineBreak": "\n", "color": "black"},
       "encoding": {"x": {"field": "t1", "type": "quantitative", "axis": null}, "y": {"datum": 0, "type": "quantitative", "axis": null}, "text": {"field": "label"}}}
     ]},
    {"width": 319.3, "height": 118,
     "layer": [
      {"data": {"name": "tr"}, "transform": [{"filter": "datum.id == 'bWT_w'"}], "mark": {"type": "rect", "color": "black"},
       "encoding": {"x": {"field": "t0", "type": "quantitative", "scale": {"domain": [0.814, 7.2], "nice": false}, "axis": null}, "x2": {"field": "t1"},
                    "y": {"field": "lo", "type": "quantitative", "scale": {"domain": [-123.3, 14], "nice": false}, "axis": null}, "y2": {"field": "hi"}}},
      {"data": {"name": "bWT_w"}, "mark": {"type": "rule", "color": "black", "strokeWidth": 1.2},
       "encoding": {"x": {"field": "t", "type": "quantitative", "axis": null}, "y": {"field": "i", "type": "quantitative", "axis": null}, "y2": {"datum": 0}}},
      {"data": {"name": "tr"}, "transform": [{"filter": "datum.id == 'bWT_w'"}], "mark": {"type": "text", "align": "left", "baseline": "middle", "dx": 7, "dy": 0, "font": "Open Sans", "fontSize": 13.5, "lineBreak": "\n", "color": "black"},
       "encoding": {"x": {"field": "t1", "type": "quantitative", "axis": null}, "y": {"datum": 0, "type": "quantitative", "axis": null}, "text": {"field": "label"}}},
      {"data": {"name": "sbl"}, "transform": [{"filter": "datum.id == 'bWT'"}], "mark": {"type": "rule", "color": "black", "strokeWidth": 1.5, "strokeCap": "square"},
       "encoding": {"x": {"field": "t0", "type": "quantitative", "axis": null}, "x2": {"field": "t1"}, "y": {"field": "i0", "type": "quantitative", "axis": null}, "y2": {"field": "i1"}}},
      {"data": {"name": "sbt"}, "transform": [{"filter": "datum.id == 'bWT'"}], "mark": {"type": "text", "align": "center", "baseline": "middle", "font": "Open Sans", "fontSize": 13.5, "color": "black"},
       "encoding": {"x": {"field": "t", "type": "quantitative", "axis": null}, "y": {"field": "i", "type": "quantitative", "axis": null}, "text": {"field": "text"}}}
     ]}
   ]},
   {"bounds": "flush", "spacing": 0, "vconcat": [
    {"width": 350, "height": 53,
     "layer": [
      {"data": {"name": "tr"}, "transform": [{"filter": "datum.id == 'bKO_c'"}], "mark": {"type": "rect", "color": "black"},
       "encoding": {"x": {"field": "t0", "type": "quantitative", "scale": {"domain": [0, 7], "nice": false}, "axis": null}, "x2": {"field": "t1"},
                    "y": {"field": "lo", "type": "quantitative", "scale": {"domain": [-36.9, 24.8], "nice": false}, "axis": null}, "y2": {"field": "hi"}}},
      {"data": {"name": "bKO_c"}, "mark": {"type": "rule", "color": "black", "strokeWidth": 1.2},
       "encoding": {"x": {"field": "t", "type": "quantitative", "axis": null}, "y": {"field": "i", "type": "quantitative", "axis": null}, "y2": {"datum": 0}}},
      {"data": {"name": "tr"}, "transform": [{"filter": "datum.id == 'bKO_c'"}], "mark": {"type": "text", "align": "left", "baseline": "middle", "dx": 7, "dy": 0, "font": "Open Sans", "fontSize": 13.5, "lineBreak": "\n", "color": "black"},
       "encoding": {"x": {"field": "t1", "type": "quantitative", "axis": null}, "y": {"datum": 0, "type": "quantitative", "axis": null}, "text": {"field": "label"}}}
     ]},
    {"width": 350, "height": 69,
     "layer": [
      {"data": {"name": "tr"}, "transform": [{"filter": "datum.id == 'bKO_b'"}], "mark": {"type": "rect", "color": "black"},
       "encoding": {"x": {"field": "t0", "type": "quantitative", "scale": {"domain": [0, 7], "nice": false}, "axis": null}, "x2": {"field": "t1"},
                    "y": {"field": "lo", "type": "quantitative", "scale": {"domain": [-52, 28.3], "nice": false}, "axis": null}, "y2": {"field": "hi"}}},
      {"data": {"name": "bKO_b"}, "mark": {"type": "rule", "color": "black", "strokeWidth": 1.2},
       "encoding": {"x": {"field": "t", "type": "quantitative", "axis": null}, "y": {"field": "i", "type": "quantitative", "axis": null}, "y2": {"datum": 0}}},
      {"data": {"name": "tr"}, "transform": [{"filter": "datum.id == 'bKO_b'"}], "mark": {"type": "text", "align": "left", "baseline": "middle", "dx": 7, "dy": 0, "font": "Open Sans", "fontSize": 13.5, "lineBreak": "\n", "color": "black"},
       "encoding": {"x": {"field": "t1", "type": "quantitative", "axis": null}, "y": {"datum": 0, "type": "quantitative", "axis": null}, "text": {"field": "label"}}}
     ]},
    {"width": 350, "height": 84,
     "layer": [
      {"data": {"name": "tr"}, "transform": [{"filter": "datum.id == 'bKO_x'"}], "mark": {"type": "rect", "color": "black"},
       "encoding": {"x": {"field": "t0", "type": "quantitative", "scale": {"domain": [0, 7], "nice": false}, "axis": null}, "x2": {"field": "t1"},
                    "y": {"field": "lo", "type": "quantitative", "scale": {"domain": [-82.9, 14.8], "nice": false}, "axis": null}, "y2": {"field": "hi"}}},
      {"data": {"name": "bKO_x"}, "mark": {"type": "rule", "color": "black", "strokeWidth": 1.2},
       "encoding": {"x": {"field": "t", "type": "quantitative", "axis": null}, "y": {"field": "i", "type": "quantitative", "axis": null}, "y2": {"datum": 0}}},
      {"data": {"name": "tr"}, "transform": [{"filter": "datum.id == 'bKO_x'"}], "mark": {"type": "text", "align": "left", "baseline": "middle", "dx": 7, "dy": 10.8, "lineHeight": 18, "font": "Open Sans", "fontSize": 13.5, "lineBreak": "\n", "color": "black"},
       "encoding": {"x": {"field": "t1", "type": "quantitative", "axis": null}, "y": {"datum": 0, "type": "quantitative", "axis": null}, "text": {"field": "label"}}}
     ]},
    {"width": 350, "height": 118,
     "layer": [
      {"data": {"name": "tr"}, "transform": [{"filter": "datum.id == 'bKO_w'"}], "mark": {"type": "rect", "color": "black"},
       "encoding": {"x": {"field": "t0", "type": "quantitative", "scale": {"domain": [0, 7], "nice": false}, "axis": null}, "x2": {"field": "t1"},
                    "y": {"field": "lo", "type": "quantitative", "scale": {"domain": [-123.3, 14], "nice": false}, "axis": null}, "y2": {"field": "hi"}}},
      {"data": {"name": "bKO_w"}, "mark": {"type": "rule", "color": "black", "strokeWidth": 1.2},
       "encoding": {"x": {"field": "t", "type": "quantitative", "axis": null}, "y": {"field": "i", "type": "quantitative", "axis": null}, "y2": {"datum": 0}}},
      {"data": {"name": "tr"}, "transform": [{"filter": "datum.id == 'bKO_w'"}], "mark": {"type": "text", "align": "left", "baseline": "middle", "dx": 7, "dy": 0, "font": "Open Sans", "fontSize": 13.5, "lineBreak": "\n", "color": "black"},
       "encoding": {"x": {"field": "t1", "type": "quantitative", "axis": null}, "y": {"datum": 0, "type": "quantitative", "axis": null}, "text": {"field": "label"}}},
      {"data": {"name": "sbl"}, "transform": [{"filter": "datum.id == 'bKO'"}], "mark": {"type": "rule", "color": "black", "strokeWidth": 1.5, "strokeCap": "square"},
       "encoding": {"x": {"field": "t0", "type": "quantitative", "axis": null}, "x2": {"field": "t1"}, "y": {"field": "i0", "type": "quantitative", "axis": null}, "y2": {"field": "i1"}}},
      {"data": {"name": "sbt"}, "transform": [{"filter": "datum.id == 'bKO'"}], "mark": {"type": "text", "align": "center", "baseline": "middle", "font": "Open Sans", "fontSize": 13.5, "color": "black"},
       "encoding": {"x": {"field": "t", "type": "quantitative", "axis": null}, "y": {"field": "i", "type": "quantitative", "axis": null}, "text": {"field": "text"}}}
     ]}
   ]}
  ]
 },
 {
  "spacing": 102.7,
  "resolve": {"scale": {"color": "independent", "strokeDash": "independent"}, "legend": {"color": "independent", "strokeDash": "independent"}},
  "hconcat": [
   {"width": 234, "height": 179,
    "resolve": {"axis": {"x": "independent", "y": "independent"}},
    "layer": [
     {"data": {"name": "cdf"}, "transform": [{"filter": "datum.g == 'WT'"}], "mark": {"type": "line", "strokeWidth": 1.8},
      "encoding": {
       "x": {"field": "ms", "type": "quantitative", "scale": {"domain": [0, 1250], "range": [12, 234], "nice": false},
             "axis": {"values": [0, 250, 500, 750, 1000, 1250], "format": "d", "title": "Inter-event Interval (ms)", "labelFontSize": 11.5, "titleFontSize": 12.5, "tickSize": 4, "labelPadding": 2, "titlePadding": 2, "labelFlush": false}},
       "y": {"field": "p", "type": "quantitative", "scale": {"domain": [0, 1.2], "nice": false},
             "axis": {"offset": -12, "values": [0, 0.2, 0.4, 0.6, 0.8, 1, 1.2], "labelOverlap": false, "labelExpr": "datum.value == 0 ? '0' : format(datum.value, '.1f')", "title": "Cumulative Probability", "labelFontSize": 11.5, "titleFontSize": 13, "tickSize": 4, "labelPadding": 2, "titlePadding": 5}},
       "color": {"field": "s", "type": "nominal", "scale": {"domain": ["Control", "10 µM BQCA", "10 µM BQCA + 3 µM CCh", "Wash"], "range": ["black", "black", "black", "#aaaaaa"]},
                 "legend": {"title": null, "orient": "none", "legendX": 137, "legendY": 111, "symbolType": "M-2,0H2", "symbolSize": 100, "symbolStrokeWidth": 2, "labelFont": "Liberation Sans", "labelFontSize": 11, "rowPadding": 0, "labelOffset": 7, "padding": 0, "labelLimit": 300, "labelExpr": "datum.label == '10 µM BQCA + 3 µM CCh' ? ['10 µM BQCA +', '\u00a0\u00a0\u00a03 µM CCh'] : datum.label"}},
       "strokeDash": {"field": "s", "type": "nominal", "scale": {"domain": ["Control", "10 µM BQCA", "10 µM BQCA + 3 µM CCh", "Wash"], "range": [[1, 0], [7, 4], [6, 2, 1.5, 2, 1.5, 2], [1, 0]]},
                 "legend": {"title": null, "orient": "none", "legendX": 137, "legendY": 111, "symbolType": "M-2,0H2", "symbolSize": 100, "symbolStrokeWidth": 2, "labelFont": "Liberation Sans", "labelFontSize": 11, "rowPadding": 0, "labelOffset": 7, "padding": 0, "labelLimit": 300, "labelExpr": "datum.label == '10 µM BQCA + 3 µM CCh' ? ['10 µM BQCA +', '\u00a0\u00a0\u00a03 µM CCh'] : datum.label"}}
      }},
     {"data": {"name": "cdf"}, "transform": [{"filter": "false"}], "mark": "point",
      "encoding": {
       "x": {"field": "ms", "type": "quantitative", "axis": {"orient": "bottom", "values": [125, 375, 625, 875, 1125], "labels": false, "domain": false, "tickSize": 2.5, "title": null}},
       "y": {"field": "p", "type": "quantitative", "axis": {"orient": "left", "offset": -12, "values": [0.1, 0.3, 0.5, 0.7, 0.9, 1.1], "labels": false, "domain": false, "tickSize": 2.5, "title": null}}}},
     {"data": {"name": "panels"}, "transform": [{"filter": "datum.panel == 'c'"}], "mark": {"type": "text", "align": "left", "baseline": "alphabetic", "font": "Liberation Sans", "fontSize": 22, "fontWeight": "bold", "color": "black"},
      "encoding": {"x": {"datum": -444.8, "type": "quantitative", "axis": null}, "y": {"datum": 1.28, "type": "quantitative", "axis": null}, "text": {"field": "panel"}}},
     {"data": {"name": "heads"}, "transform": [{"filter": "datum.key == 'cWT'"}], "mark": {"type": "text", "align": "center", "baseline": "alphabetic", "font": "Liberation Sans", "fontSize": 17, "color": "black"},
      "encoding": {"x": {"datum": 523.6, "type": "quantitative", "axis": null}, "y": {"datum": 1.28, "type": "quantitative", "axis": null}, "text": {"field": "text"}}}
    ]},
   {"width": 220, "height": 179,
    "resolve": {"axis": {"x": "independent", "y": "independent"}},
    "layer": [
     {"data": {"name": "cdf"}, "transform": [{"filter": "datum.g == 'KO'"}], "mark": {"type": "line", "strokeWidth": 1.8},
      "encoding": {
       "x": {"field": "ms", "type": "quantitative", "scale": {"domain": [0, 1500], "nice": false},
             "axis": {"values": [0, 250, 500, 750, 1000, 1250, 1500], "format": "d", "title": "Inter-event Interval (ms)", "labelFontSize": 11.5, "titleFontSize": 12.5, "tickSize": 4, "labelPadding": 2, "titlePadding": 2, "labelFlush": false}},
       "y": {"field": "p", "type": "quantitative", "scale": {"domain": [0, 1.2], "nice": false},
             "axis": {"values": [0, 0.2, 0.4, 0.6, 0.8, 1, 1.2], "labelOverlap": false, "labelExpr": "datum.value == 0 ? '0' : format(datum.value, '.1f')", "title": "Cumulative Probability", "labelFontSize": 11.5, "titleFontSize": 13, "tickSize": 4, "labelPadding": 2, "titlePadding": 5}},
       "color": {"field": "s", "type": "nominal", "scale": {"domain": ["Control", "10 µM BQCA", "10 µM BQCA + 3 µM CCh", "Wash"], "range": ["black", "black", "black", "#8c8c8c"]},
                 "legend": {"title": null, "orient": "none", "legendX": 126.8, "legendY": 110, "symbolType": "M-2.5,0H2.5", "symbolSize": 100, "symbolStrokeWidth": 2, "labelFont": "Liberation Sans", "labelFontSize": 11, "rowPadding": 0, "labelOffset": 9.5, "padding": 0, "labelLimit": 300, "labelExpr": "datum.label == '10 µM BQCA + 3 µM CCh' ? ['10 µM BQCA +', '\u00a0\u00a0\u00a03 µM CCh'] : datum.label"}},
       "strokeDash": {"field": "s", "type": "nominal", "scale": {"domain": ["Control", "10 µM BQCA", "10 µM BQCA + 3 µM CCh", "Wash"], "range": [[1, 0], [7, 4], [6, 2, 1.5, 2, 1.5, 2], [1, 0]]},
                 "legend": {"title": null, "orient": "none", "legendX": 126.8, "legendY": 110, "symbolType": "M-2.5,0H2.5", "symbolSize": 100, "symbolStrokeWidth": 2, "labelFont": "Liberation Sans", "labelFontSize": 11, "rowPadding": 0, "labelOffset": 9.5, "padding": 0, "labelLimit": 300, "labelExpr": "datum.label == '10 µM BQCA + 3 µM CCh' ? ['10 µM BQCA +', '\u00a0\u00a0\u00a03 µM CCh'] : datum.label"}}
      }},
     {"data": {"name": "cdf"}, "transform": [{"filter": "false"}], "mark": "point",
      "encoding": {
       "x": {"field": "ms", "type": "quantitative", "axis": {"orient": "bottom", "values": [125, 375, 625, 875, 1125, 1375], "labels": false, "domain": false, "tickSize": 2.5, "title": null}},
       "y": {"field": "p", "type": "quantitative", "axis": {"orient": "left", "values": [0.1, 0.3, 0.5, 0.7, 0.9, 1.1], "labels": false, "domain": false, "tickSize": 2.5, "title": null}}}},
     {"data": {"name": "heads"}, "transform": [{"filter": "datum.key == 'cKO'"}], "mark": {"type": "text", "align": "center", "baseline": "alphabetic", "font": "Liberation Sans", "fontSize": 17, "color": "black"},
      "encoding": {"x": {"datum": 752, "type": "quantitative", "axis": null}, "y": {"datum": 1.28, "type": "quantitative", "axis": null}, "text": {"field": "text"}}}
    ]}
  ]
 },
 {
  "spacing": 9,
  "resolve": {"scale": {"fill": "independent"}, "legend": {"fill": "independent"}},
  "hconcat": [
   {"width": 307, "height": 201,
    "title": {"text": "d", "anchor": "start", "frame": "bounds", "offset": 11, "font": "Liberation Sans", "fontSize": 22, "fontWeight": "bold"},
    "resolve": {"axis": {"x": "independent", "y": "independent"}},
    "layer": [
     {"data": {"name": "amp"}, "mark": {"type": "bar", "stroke": "black", "strokeWidth": 1.5},
      "encoding": {
       "x": {"field": "cond", "type": "nominal", "scale": {"domain": ["Control", "3 µM CCh", "30 µM CCh", "10 µM BQCA", "10 µM BQCA + 3 µM CCh", "Wash"], "paddingInner": 0.37, "paddingOuter": 0.237, "align": 0.58},
             "axis": {"title": null, "labelAngle": -45, "labelAlign": "right", "labelBaseline": "middle", "labelFont": "Open Sans", "labelFontSize": 13, "labelPadding": 4, "tickSize": 5, "tickWidth": 1.5, "domainWidth": 2, "labelOverlap": false, "labelLimit": 300, "labelLineHeight": 15, "labelExpr": "datum.label == '10 µM BQCA + 3 µM CCh' ? ['10 µM BQCA', '+ 3 µM CCh'] : datum.label"}},
       "xOffset": {"field": "g", "type": "nominal", "scale": {"domain": ["Wildtype", "M1 KO"], "paddingInner": 0.1}},
       "y": {"field": "mean", "type": "quantitative", "scale": {"domain": [0, 175], "nice": false},
             "axis": {"values": [0, 25, 50, 75, 100, 125, 150, 175], "labelOverlap": false, "title": ["Normalized Amplitude", "(% Control)"], "titleFontSize": 15.5, "titleLineHeight": 21, "titlePadding": 1, "labelFontSize": 13.5, "labelPadding": 2, "tickSize": 5, "tickWidth": 1.5, "domainWidth": 2}},
       "fill": {"field": "g", "type": "nominal", "scale": {"domain": ["Wildtype", "M1 KO"], "range": ["black", "white"]},
                "legend": {"title": null, "orient": "none", "legendX": 255, "legendY": -8, "symbolType": "M-1,-0.6H1V0.6H-1Z", "symbolSize": 289, "symbolStrokeColor": "black", "symbolStrokeWidth": 1.5, "labelFont": "Open Sans", "labelFontSize": 9, "rowPadding": 3, "labelOffset": 4, "padding": 0}}
      }},
     {"data": {"name": "amp"}, "transform": [{"filter": "datum.err != null"}], "mark": {"type": "rule", "color": "black", "strokeWidth": 1.8},
      "encoding": {"x": {"field": "cond", "type": "nominal", "axis": null}, "xOffset": {"field": "g", "type": "nominal"}, "y": {"field": "mean", "type": "quantitative", "axis": null}, "y2": {"field": "err"}}},
     {"data": {"name": "amp"}, "transform": [{"filter": "datum.err != null"}], "mark": {"type": "tick", "color": "black", "thickness": 2, "size": 8, "orient": "horizontal"},
      "encoding": {"x": {"field": "cond", "type": "nominal", "axis": null}, "xOffset": {"field": "g", "type": "nominal"}, "y": {"field": "err", "type": "quantitative", "axis": null}}},
     {"data": {"name": "ampLegs"}, "mark": {"type": "rule", "color": "black", "strokeWidth": 1.5},
      "encoding": {"x": {"field": "cond", "type": "nominal", "axis": null}, "xOffset": {"field": "g", "type": "nominal"}, "y": {"field": "lo", "type": "quantitative", "axis": null}, "y2": {"field": "hi"}}},
     {"data": {"name": "ampBr"}, "mark": {"type": "tick", "color": "black", "thickness": 1.5, "size": 17.5, "orient": "horizontal"},
      "encoding": {"x": {"field": "cond", "type": "nominal", "axis": null}, "y": {"field": "top", "type": "quantitative", "axis": null}}},
     {"data": {"name": "ampBr"}, "mark": {"type": "text", "baseline": "alphabetic", "dy": -3, "font": "Open Sans", "fontSize": 9.5, "color": "#444444"},
      "encoding": {"x": {"field": "cond", "type": "nominal", "axis": null}, "y": {"field": "top", "type": "quantitative", "axis": null}, "text": {"field": "label"}}},
     {"data": {"name": "ampStar"}, "mark": {"type": "text", "baseline": "alphabetic", "dy": 1, "font": "Open Sans", "fontSize": 9.5, "color": "#444444"},
      "encoding": {"x": {"field": "cond", "type": "nominal", "axis": null}, "xOffset": {"field": "g", "type": "nominal"}, "y": {"field": "y", "type": "quantitative", "axis": null}, "text": {"field": "label"}}}
    ]},
   {"width": 313, "height": 201,
    "resolve": {"axis": {"x": "independent", "y": "independent"}},
    "layer": [
     {"data": {"name": "freq"}, "mark": {"type": "bar", "stroke": "black", "strokeWidth": 1.5},
      "encoding": {
       "x": {"field": "cond", "type": "nominal", "scale": {"domain": ["Control", "3 µM CCh", "30 µM CCh", "10 µM BQCA", "10 µM BQCA + 3 µM CCh", "Wash"], "paddingInner": 0.37, "paddingOuter": 0.293, "align": 0.63},
             "axis": {"title": null, "labelAngle": -45, "labelAlign": "right", "labelBaseline": "middle", "labelFont": "Open Sans", "labelFontSize": 13, "labelPadding": 4, "tickSize": 5, "tickWidth": 1.5, "domainWidth": 2, "labelOverlap": false, "labelLimit": 300, "labelLineHeight": 15, "labelExpr": "datum.label == '10 µM BQCA + 3 µM CCh' ? ['10 µM BQCA', '+ 3 µM CCh'] : datum.label"}},
       "xOffset": {"field": "g", "type": "nominal", "scale": {"domain": ["Wildtype", "M1 KO"], "paddingInner": 0.1}},
       "y": {"field": "mean", "type": "quantitative", "scale": {"domain": [0, 600], "nice": false},
             "axis": {"values": [0, 100, 200, 300, 400, 500, 600], "labelOverlap": false, "title": ["Normalized Frequency", "(% Control)"], "titleFontSize": 15.5, "titleLineHeight": 21, "titlePadding": 1, "labelFontSize": 13.5, "labelPadding": 2, "tickSize": 5, "tickWidth": 1.5, "domainWidth": 2}},
       "fill": {"field": "g", "type": "nominal", "scale": {"domain": ["Wildtype", "M1 KO"], "range": ["black", "white"]},
                "legend": {"title": null, "orient": "none", "legendX": 258, "legendY": -6, "symbolType": "M-1,-0.6H1V0.6H-1Z", "symbolSize": 324, "symbolStrokeColor": "black", "symbolStrokeWidth": 1.5, "labelFont": "Open Sans", "labelFontSize": 9, "rowPadding": 3, "labelOffset": 3, "padding": 0}}
      }},
     {"data": {"name": "freq"}, "transform": [{"filter": "datum.err != null"}], "mark": {"type": "rule", "color": "black", "strokeWidth": 1.8},
      "encoding": {"x": {"field": "cond", "type": "nominal", "axis": null}, "xOffset": {"field": "g", "type": "nominal"}, "y": {"field": "mean", "type": "quantitative", "axis": null}, "y2": {"field": "err"}}},
     {"data": {"name": "freq"}, "transform": [{"filter": "datum.err != null"}], "mark": {"type": "tick", "color": "black", "thickness": 2, "size": 8, "orient": "horizontal"},
      "encoding": {"x": {"field": "cond", "type": "nominal", "axis": null}, "xOffset": {"field": "g", "type": "nominal"}, "y": {"field": "err", "type": "quantitative", "axis": null}}},
     {"data": {"name": "freqLegs"}, "mark": {"type": "rule", "color": "black", "strokeWidth": 1.5},
      "encoding": {"x": {"field": "cond", "type": "nominal", "axis": null}, "xOffset": {"field": "g", "type": "nominal"}, "y": {"field": "lo", "type": "quantitative", "axis": null}, "y2": {"field": "hi"}}},
     {"data": {"name": "freqBr"}, "mark": {"type": "tick", "color": "black", "thickness": 1.5, "size": 17.5, "orient": "horizontal"},
      "encoding": {"x": {"field": "cond", "type": "nominal", "axis": null}, "y": {"field": "top", "type": "quantitative", "axis": null}}},
     {"data": {"name": "freqBr"}, "mark": {"type": "text", "baseline": "alphabetic", "dy": -3, "font": "Open Sans", "fontSize": 9.5, "color": "#444444"},
      "encoding": {"x": {"field": "cond", "type": "nominal", "axis": null}, "y": {"field": "top", "type": "quantitative", "axis": null}, "text": {"field": "label"}}},
     {"data": {"name": "freqStar"}, "mark": {"type": "text", "baseline": "alphabetic", "dy": 1, "font": "Open Sans", "fontSize": 9.5, "color": "#444444"},
      "encoding": {"x": {"field": "cond", "type": "nominal", "axis": null}, "xOffset": {"field": "g", "type": "nominal"}, "y": {"field": "y", "type": "quantitative", "axis": null}, "text": {"field": "label"}}}
    ]}
  ]
 }
]
}
